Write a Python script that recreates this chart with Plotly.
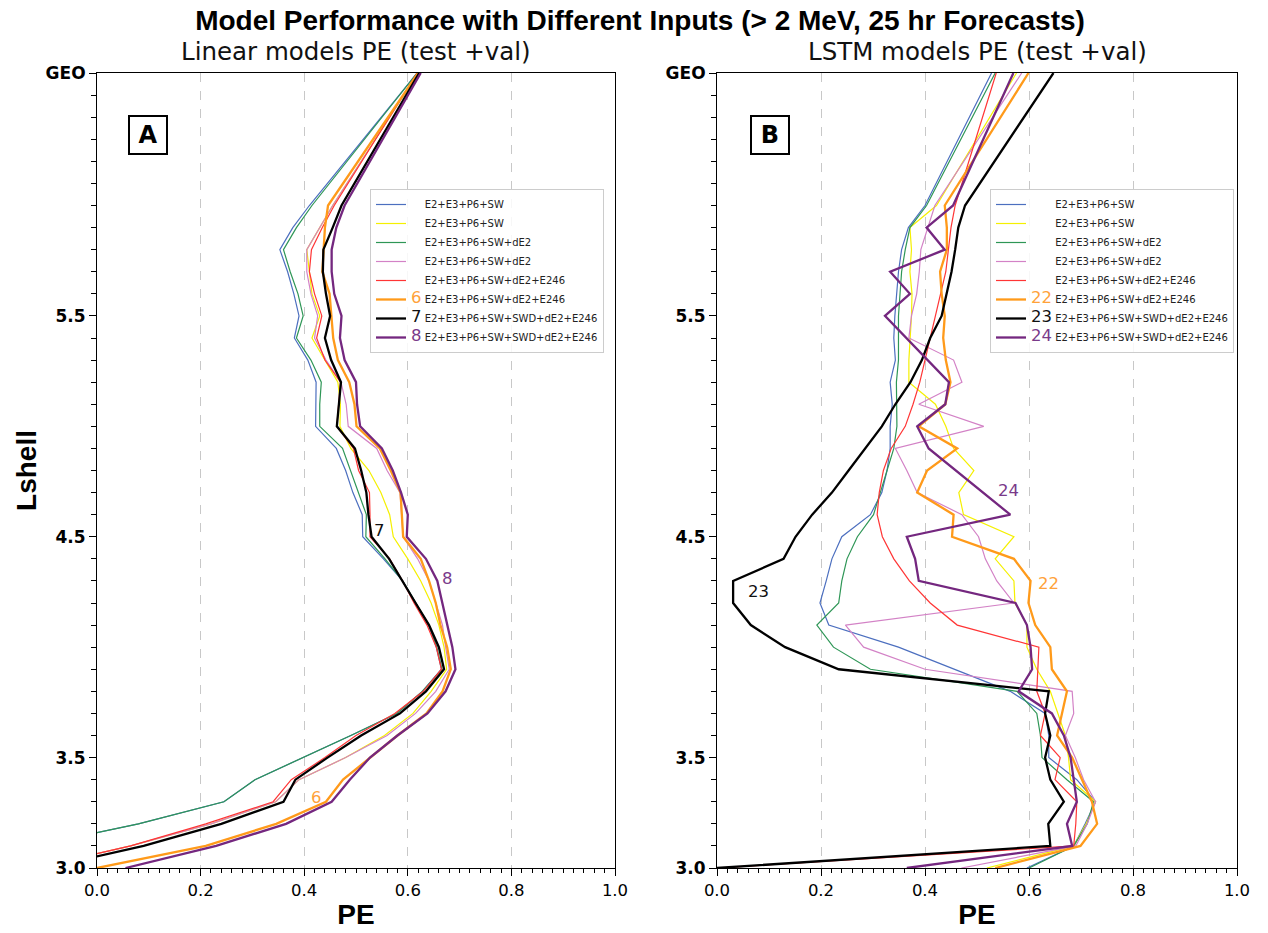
import plotly.graph_objects as go

# ---------------- data ----------------
L_SHELL = [3.0, 3.1, 3.2, 3.3, 3.4, 3.5, 3.6, 3.7, 3.8, 3.9, 4.0, 4.1, 4.2, 4.3, 4.4, 4.5,
           4.6, 4.7, 4.8, 4.9, 5.0, 5.1, 5.2, 5.3, 5.4, 5.5, 5.6, 5.7, 5.8, 5.9, 6.0, 6.6]

X_TICKS = [0.0, 0.2, 0.4, 0.6, 0.8, 1.0]
Y_TICKVALS = [3.0, 3.5, 4.5, 5.5, 6.6]
Y_TICKTEXT = ["3.0", "3.5", "4.5", "5.5", "GEO"]

MODEL_NAMES = ["E2+E3+P6+SW", "E2+E3+P6+SW", "E2+E3+P6+SW+dE2", "E2+E3+P6+SW+dE2",
               "E2+E3+P6+SW+dE2+E246", "E2+E3+P6+SW+dE2+E246",
               "E2+E3+P6+SW+SWD+dE2+E246", "E2+E3+P6+SW+SWD+dE2+E246"]
LINEAR_NUMS = ["", "", "", "", "", "6", "7", "8"]
LSTM_NUMS = ["", "", "", "", "", "22", "23", "24"]

# Linear models PE (panel A)
lin_blue = [-0.30, -0.12, 0.08, 0.245, 0.305, 0.398, 0.49, 0.579, 0.628, 0.665, 0.655, 0.64, 0.615, 0.59, 0.553, 0.513,
            0.512, 0.494, 0.48, 0.462, 0.422, 0.423, 0.423, 0.407, 0.381, 0.39, 0.38, 0.368, 0.353, 0.378, 0.41, 0.618]
lin_yellow = [-0.12, 0.065, 0.22, 0.345, 0.39, 0.48, 0.555, 0.61, 0.645, 0.675, 0.67, 0.66, 0.645, 0.625, 0.6, 0.572,
              0.565, 0.548, 0.525, 0.49, 0.469, 0.47, 0.465, 0.44, 0.415, 0.43, 0.415, 0.41, 0.405, 0.43, 0.455, 0.62]
lin_green = [-0.30, -0.12, 0.08, 0.245, 0.305, 0.398, 0.49, 0.579, 0.628, 0.666, 0.656, 0.641, 0.616, 0.59, 0.556, 0.519,
             0.52, 0.505, 0.49, 0.474, 0.43, 0.43, 0.433, 0.413, 0.385, 0.398, 0.388, 0.373, 0.36, 0.385, 0.415, 0.618]
lin_pink = [-0.12, 0.065, 0.22, 0.345, 0.39, 0.48, 0.56, 0.615, 0.654, 0.68, 0.673, 0.667, 0.654, 0.641, 0.619, 0.591,
            0.588, 0.585, 0.56, 0.54, 0.485, 0.481, 0.471, 0.442, 0.42, 0.426, 0.413, 0.405, 0.405, 0.43, 0.455, 0.62]
lin_red = [-0.12, 0.065, 0.21, 0.34, 0.375, 0.44, 0.5, 0.575, 0.63, 0.665, 0.655, 0.637, 0.612, 0.59, 0.565, 0.527,
           0.527, 0.526, 0.505, 0.495, 0.463, 0.467, 0.47, 0.44, 0.424, 0.434, 0.42, 0.41, 0.414, 0.435, 0.458, 0.618]
lin_orange = [0.0, 0.21, 0.346, 0.442, 0.475, 0.527, 0.58, 0.636, 0.667, 0.683, 0.676, 0.663, 0.654, 0.641, 0.625, 0.591,
              0.588, 0.586, 0.567, 0.546, 0.501, 0.497, 0.487, 0.465, 0.456, 0.453, 0.449, 0.435, 0.437, 0.44, 0.446, 0.62]
lin_black = [-0.10, 0.09, 0.24, 0.36, 0.383, 0.445, 0.51, 0.585, 0.635, 0.67, 0.66, 0.641, 0.615, 0.59, 0.564, 0.53,
             0.524, 0.52, 0.51, 0.498, 0.463, 0.467, 0.471, 0.452, 0.44, 0.45, 0.442, 0.436, 0.437, 0.455, 0.472, 0.622]
lin_purple = [0.055, 0.23, 0.365, 0.453, 0.488, 0.527, 0.58, 0.638, 0.673, 0.692, 0.686, 0.676, 0.667, 0.657, 0.635, 0.598,
              0.6, 0.587, 0.571, 0.55, 0.508, 0.502, 0.5, 0.478, 0.469, 0.472, 0.458, 0.453, 0.453, 0.462, 0.478, 0.625]

# LSTM models PE (panel B)
lstm_blue = [0.596, 0.686, 0.708, 0.728, 0.692, 0.638, 0.638, 0.631, 0.564, 0.456, 0.349, 0.215, 0.198, 0.21, 0.221, 0.24,
             0.295, 0.317, 0.327, 0.333, 0.333, 0.337, 0.333, 0.343, 0.34, 0.342, 0.345, 0.349, 0.355, 0.368, 0.4, 0.528]
lstm_yellow = [0.519, 0.686, 0.71, 0.728, 0.68, 0.676, 0.67, 0.655, 0.641, 0.615, 0.596, 0.596, 0.573, 0.571, 0.535, 0.571,
               0.474, 0.465, 0.494, 0.455, 0.44, 0.42, 0.369, 0.369, 0.372, 0.374, 0.375, 0.371, 0.374, 0.371, 0.422, 0.576]
lstm_green = [0.6, 0.686, 0.712, 0.724, 0.673, 0.625, 0.622, 0.615, 0.577, 0.295, 0.224, 0.192, 0.234, 0.24, 0.25, 0.27,
              0.301, 0.314, 0.327, 0.34, 0.346, 0.346, 0.345, 0.349, 0.349, 0.349, 0.352, 0.355, 0.362, 0.371, 0.403, 0.535]
lstm_pink = [0.47, 0.69, 0.712, 0.728, 0.705, 0.689, 0.67, 0.686, 0.683, 0.4, 0.282, 0.247, 0.571, 0.538, 0.516, 0.503,
             0.471, 0.385, 0.365, 0.343, 0.513, 0.388, 0.471, 0.455, 0.369, 0.374, 0.384, 0.389, 0.392, 0.406, 0.419, 0.586]
lstm_red = [0.0, 0.686, 0.69, 0.692, 0.65, 0.66, 0.622, 0.631, 0.615, 0.617, 0.619, 0.462, 0.41, 0.37, 0.34, 0.318,
            0.308, 0.312, 0.32, 0.335, 0.362, 0.377, 0.39, 0.4, 0.41, 0.42, 0.43, 0.44, 0.445, 0.45, 0.458, 0.537]
lstm_orange = [0.535, 0.699, 0.731, 0.721, 0.702, 0.683, 0.654, 0.663, 0.673, 0.644, 0.641, 0.612, 0.599, 0.603, 0.571, 0.452,
               0.455, 0.385, 0.404, 0.462, 0.388, 0.439, 0.449, 0.44, 0.435, 0.438, 0.432, 0.429, 0.442, 0.442, 0.438, 0.599]
lstm_black = [0.0, 0.641, 0.637, 0.667, 0.641, 0.631, 0.641, 0.631, 0.638, 0.234, 0.131, 0.065, 0.031, 0.031, 0.128, 0.151,
              0.183, 0.221, 0.253, 0.285, 0.317, 0.343, 0.372, 0.394, 0.41, 0.432, 0.442, 0.451, 0.458, 0.464, 0.477, 0.647]
lstm_purple = [0.365, 0.683, 0.673, 0.692, 0.686, 0.68, 0.667, 0.644, 0.58, 0.606, 0.603, 0.596, 0.574, 0.388, 0.381, 0.365,
               0.564, 0.511, 0.46, 0.407, 0.385, 0.439, 0.446, 0.405, 0.364, 0.323, 0.371, 0.333, 0.438, 0.403, 0.454, 0.57]

LINEAR_SERIES = [lin_blue, lin_yellow, lin_green, lin_pink, lin_red, lin_orange, lin_black, lin_purple]
LSTM_SERIES = [lstm_blue, lstm_yellow, lstm_green, lstm_pink, lstm_red, lstm_orange, lstm_black, lstm_purple]

# curve labels: (text, PE, L)
LINEAR_LABELS = [("6", 0.423, 3.32), ("7", 0.546, 4.53), ("8", 0.676, 4.31)]
LSTM_LABELS = [("22", 0.638, 4.29), ("23", 0.079, 4.25), ("24", 0.56, 4.71)]

# ---------------- style ----------------
COLORS = ["#4c6fbf", "#f5f000", "#2e9656", "#d382c6", "#ff3535", "#ff9a1a", "#000000", "#74277f"]
WIDTHS = [1.2, 1.2, 1.2, 1.2, 1.2, 2.3, 2.3, 2.3]
LABEL_COLORS = {"6": "#ffa23a", "7": "#111111", "8": "#7a3a8a",
                "22": "#ffa23a", "23": "#111111", "24": "#7a3a8a"}
W, H = 1268, 933


def px_x(p):
    return p / W


def px_y(p):
    return 1 - p / H


fig = go.Figure()

for panel, (series, nums, xa, ya, leg) in enumerate([
        (LINEAR_SERIES, LINEAR_NUMS, "x", "y", "legend"),
        (LSTM_SERIES, LSTM_NUMS, "x2", "y2", "legend2")]):
    ph = "6" if panel == 0 else "22"
    for i, vals in enumerate(series):
        num = nums[i]
        if num:
            nm = f'<span style="font-size:16.5px;color:{LABEL_COLORS[num]}">{num}</span> {MODEL_NAMES[i]}'
        else:
            nm = f'<span style="font-size:16.5px;color:rgba(0,0,0,0)">{ph}</span> {MODEL_NAMES[i]}'
        fig.add_trace(go.Scatter(
            x=vals, y=L_SHELL, mode="lines", name=nm,
            line=dict(color=COLORS[i], width=WIDTHS[i]),
            xaxis=xa, yaxis=ya, legend=leg, hoverinfo="skip"))

annotations = []
for labels, xr, yr in [(LINEAR_LABELS, "x", "y"), (LSTM_LABELS, "x2", "y2")]:
    for txt, xv, yv in labels:
        annotations.append(dict(text=txt, x=xv, y=yv, xref=xr, yref=yr, showarrow=False,
                                font=dict(family="DejaVu Sans", size=16.5, color=LABEL_COLORS[txt])))

# panel letters
for letter, cx in [("A", 148), ("B", 770)]:
    annotations.append(dict(text=f"<b>{letter}</b>", x=px_x(cx), y=px_y(135), xref="paper", yref="paper",
                            showarrow=False, xanchor="center", yanchor="middle",
                            font=dict(family="DejaVu Sans", size=24, color="black"),
                            bordercolor="black", borderwidth=2, borderpad=0, width=36, height=36,
                            bgcolor="white"))

# subplot titles
for t, cx in [("Linear models PE (test +val)", 356), ("LSTM models PE (test +val)", 977)]:
    annotations.append(dict(text=t, x=px_x(cx), y=px_y(68), xref="paper", yref="paper", showarrow=False,
                            xanchor="center", yanchor="bottom",
                            font=dict(family="DejaVu Sans", size=24.5, color="#111111")))

xa_common = dict(range=[0, 1], tickvals=X_TICKS, ticktext=[f"{v:.1f}" for v in X_TICKS],
                 ticks="outside", ticklen=7, tickwidth=1, tickcolor="black",
                 minor=dict(dtick=0.02, tick0=0, ticks="outside", ticklen=4, tickcolor="black", showgrid=False),
                 showgrid=True, gridcolor="#c8c8c8", griddash="dash", gridwidth=1,
                 showline=True, linecolor="black", linewidth=1, mirror=True, zeroline=False,
                 automargin=False,
                 tickfont=dict(family="DejaVu Sans", size=16.5, color="black"),
                 title=dict(text="<b>PE</b>", font=dict(family="Liberation Sans", size=28, color="black"),
                            standoff=5))
ya_common = dict(range=[3.0, 6.6], tickvals=Y_TICKVALS, ticktext=Y_TICKTEXT,
                 ticks="outside", ticklen=7, tickwidth=1, tickcolor="black",
                 minor=dict(dtick=0.1, tick0=3.0, ticks="outside", ticklen=5, tickcolor="black", showgrid=False),
                 showgrid=False, showline=True, linecolor="black", linewidth=1, mirror=True, zeroline=False,
                 automargin=False,
                 tickfont=dict(family="DejaVu Sans", size=17, color="black", weight="bold"))

legend_common = dict(bgcolor="rgba(255,255,255,0.85)", bordercolor="#cccccc", borderwidth=1,
                     font=dict(family="DejaVu Sans", size=10, color="#222222"),
                     xanchor="left", yanchor="top", tracegroupgap=0, itemwidth=30)

fig.update_layout(
    width=W, height=H, autosize=False,
    margin=dict(l=0, r=0, t=0, b=0),
    paper_bgcolor="white", plot_bgcolor="white",
    title=dict(text="<b>Model Performance with Different Inputs (> 2 MeV, 25 hr Forecasts)</b>",
               x=px_x(640), y=px_y(20), xanchor="center", yanchor="middle",
               font=dict(family="Liberation Sans", size=28, color="black")),
    xaxis=dict(domain=[px_x(97), px_x(615)], anchor="y", **xa_common),
    yaxis=dict(domain=[px_y(868), px_y(73)], anchor="x",
               title=dict(text="<b>Lshell</b>", font=dict(family="Liberation Sans", size=28, color="black"),
                          standoff=0),
               **ya_common),
    xaxis2=dict(domain=[px_x(717), px_x(1237)], anchor="y2", **xa_common),
    yaxis2=dict(domain=[px_y(868), px_y(73)], anchor="x2", **ya_common),
    legend=dict(x=px_x(370), y=px_y(189), **legend_common),
    legend2=dict(x=px_x(990), y=px_y(189), **legend_common),
    annotations=annotations,
    showlegend=True,
)

fig.write_html("out.html")
